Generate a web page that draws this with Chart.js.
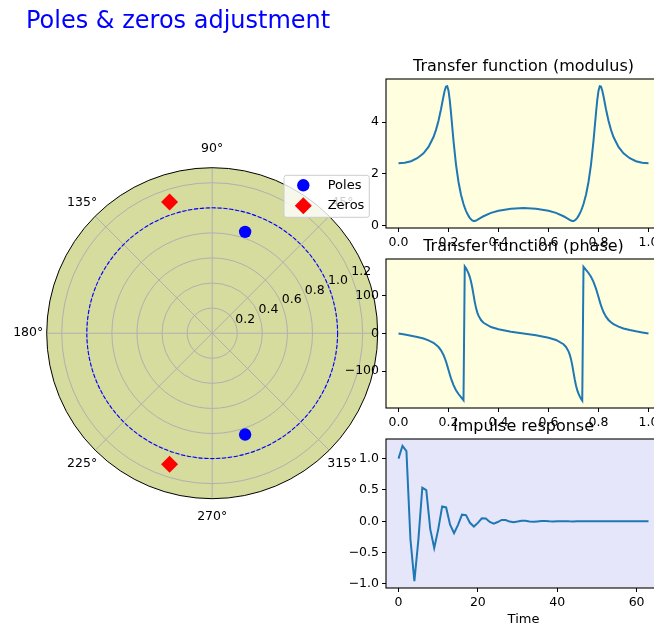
<!DOCTYPE html>
<html>
<head>
<meta charset="utf-8">
<script src="https://cdn.jsdelivr.net/npm/chart.js@4.4.1/dist/chart.umd.min.js"></script>
<style>
  html, body { margin:0; padding:0; background:#fff; width:654px; height:627px; overflow:hidden; position:relative; }
  canvas { position:absolute; }
</style>
</head>
<body>
<canvas id="polar" width="400" height="627" style="left:0px;top:0px;"></canvas>
<canvas id="modulus" width="320" height="210" style="left:346px;top:50px;"></canvas>
<canvas id="phase" width="320" height="210" style="left:346px;top:230px;"></canvas>
<canvas id="impulse" width="320" height="217" style="left:346px;top:410px;"></canvas>
<script>
// ---------------- data ----------------
const poleR = [0.85, 0.85];
const poleTheta = [72, -72];          // degrees
const zeroR = [1.1, 1.1];
const zeroTheta = [108, -108];        // degrees
const unitCircleR = 1.0;
const polarRMax = 1.32;
const polarRingTicks = [0.2, 0.4, 0.6, 0.8, 1.0, 1.2];
const polarAngleTicks = [0, 45, 90, 135, 180, 225, 270, 315];

const freq = [0, 0.025, 0.05, 0.075, 0.1, 0.12, 0.14, 0.15, 0.16, 0.17, 0.18, 0.185, 0.19, 0.195, 0.2, 0.205, 0.21, 0.22, 0.23, 0.24,
  0.25, 0.26, 0.265, 0.27, 0.275, 0.28, 0.285, 0.29, 0.295, 0.3, 0.305, 0.31, 0.315, 0.32, 0.33, 0.34, 0.37, 0.4, 0.45, 0.5,
  0.55, 0.6, 0.63, 0.66, 0.67, 0.68, 0.685, 0.69, 0.695, 0.7, 0.705, 0.71, 0.715, 0.72, 0.725, 0.73, 0.735, 0.74, 0.75, 0.76,
  0.77, 0.78, 0.79, 0.795, 0.8, 0.805, 0.81, 0.815, 0.82, 0.83, 0.84, 0.85, 0.86, 0.88, 0.9, 0.925, 0.95, 0.975, 1.0];
const modulus = [2.414, 2.433, 2.493, 2.606, 2.797, 3.042, 3.427, 3.703, 4.057, 4.502, 5.004, 5.229, 5.379, 5.391, 5.217, 4.855, 4.361, 3.278, 2.364, 1.688,
  1.198, 0.839, 0.697, 0.574, 0.468, 0.378, 0.303, 0.244, 0.203, 0.183, 0.184, 0.199, 0.224, 0.252, 0.310, 0.364, 0.494, 0.579, 0.657, 0.681,
  0.657, 0.579, 0.494, 0.364, 0.310, 0.252, 0.224, 0.199, 0.184, 0.183, 0.203, 0.244, 0.303, 0.378, 0.468, 0.574, 0.697, 0.839, 1.198, 1.688,
  2.364, 3.278, 4.361, 4.855, 5.217, 5.391, 5.379, 5.229, 5.004, 4.502, 4.057, 3.703, 3.427, 3.042, 2.797, 2.606, 2.493, 2.433, 2.414];
const phaseDeg = [0, -2.77, -5.74, -9.17, -13.5, -18.17, -24.91, -29.64, -35.94, -44.63, -57.03, -65.11, -74.59, -85.32, -96.83, -108.38, -119.24, -137.3, -150.62, -160.78,
  -169.32, -177.56, 178.0, 173.02, 167.2, 160.0, 150.7, 138.37, 122.26, 103.12, 84.06, 68.14, 56.14, 47.32, 35.74, 28.56, 17.19, 11.22, 4.88, 0,
  -4.88, -11.22, -17.19, -28.56, -35.74, -47.32, -56.14, -68.14, -84.06, -103.12, -122.26, -138.37, -150.7, -160.0, -167.2, -173.02, -178.0, 177.56, 169.32, 160.78,
  150.62, 137.3, 119.24, 108.38, 96.83, 85.32, 74.59, 65.11, 57.03, 44.63, 35.94, 29.64, 24.91, 18.17, 13.5, 9.17, 5.74, 2.77, 0];

const time = [0, 1, 2, 3, 4, 5, 6, 7, 8, 9, 10, 11, 12, 13, 14, 15, 16, 17, 18, 19, 20, 21, 22, 23, 24, 25, 26, 27, 28, 29, 30, 31,
  32, 33, 34, 35, 36, 37, 38, 39, 40, 41, 42, 43, 44, 45, 46, 47, 48, 49, 50, 51, 52, 53, 54, 55, 56, 57, 58, 59, 60, 61, 62, 63];
const impulse = [1.0, 1.205, 1.121, -0.282, -0.958, -0.3, 0.535, 0.497, -0.125, -0.425, -0.133, 0.237, 0.221, -0.056, -0.189, -0.059,
  0.105, 0.098, -0.025, -0.084, -0.026, 0.047, 0.044, -0.011, -0.037, -0.012, 0.021, 0.019, -0.005, -0.017, -0.005, 0.009,
  0.009, -0.002, -0.007, -0.002, 0.004, 0.004, -0.001, -0.003, -0.001, 0.002, 0.002, -0.001, -0.002, 0.0, 0.001, 0.001,
  0, 0, 0, 0, 0, 0, 0, 0, 0, 0, 0, 0, 0, 0, 0, 0];

const freqTicks = [0, 0.2, 0.4, 0.6, 0.8, 1.0];
const modulusTicks = [0, 2, 4];
const phaseTicks = [-100, 0, 100];
const timeTicks = [0, 20, 40, 60];
const impulseTicks = [-1.0, -0.5, 0.0, 0.5, 1.0];

// ---------------- setup ----------------
Chart.defaults.font.family = 'DejaVu Sans';
Chart.defaults.color = '#000';
const TICK_SIZE = 12.5;
const fmtNum = (v, d) => (v < 0 ? '\u2212' : '') + Math.abs(v).toFixed(d);
const deg = a => a * Math.PI / 180;
const toXY = (rs, ts) => rs.map((r, i) => ({ x: r * Math.cos(deg(ts[i])), y: r * Math.sin(deg(ts[i])) }));

// ---------------- polar chart ----------------
const polarPlugin = {
  id: 'polarGrid',
  beforeDatasetsDraw(chart) {
    const ctx = chart.ctx, sx = chart.scales.x, sy = chart.scales.y;
    const cx = sx.getPixelForValue(0), cy = sy.getPixelForValue(0);
    const rp = v => sx.getPixelForValue(v) - cx;
    const R = rp(polarRMax);
    ctx.save();
    ctx.beginPath(); ctx.arc(cx, cy, R, 0, Math.PI * 2); ctx.fillStyle = '#d5dc9e'; ctx.fill();
    ctx.strokeStyle = '#b0b0b0'; ctx.lineWidth = 1;
    for (const r of polarRingTicks) { ctx.beginPath(); ctx.arc(cx, cy, rp(r), 0, Math.PI * 2); ctx.stroke(); }
    for (const a of polarAngleTicks) {
      ctx.beginPath(); ctx.moveTo(cx, cy);
      ctx.lineTo(cx + R * Math.cos(deg(a)), cy - R * Math.sin(deg(a))); ctx.stroke();
    }
    ctx.setLineDash([4.1, 1.8]); ctx.strokeStyle = '#0000ff'; ctx.lineWidth = 1.1;
    ctx.beginPath(); ctx.arc(cx, cy, rp(unitCircleR), 0, Math.PI * 2); ctx.stroke();
    ctx.setLineDash([]);
    ctx.strokeStyle = '#000'; ctx.lineWidth = 1;
    ctx.beginPath(); ctx.arc(cx, cy, R, 0, Math.PI * 2); ctx.stroke();
    ctx.fillStyle = '#000'; ctx.font = TICK_SIZE + 'px "DejaVu Sans"';
    ctx.textAlign = 'center'; ctx.textBaseline = 'middle';
    const LR = R + 18.5;
    for (const a of polarAngleTicks) {
      ctx.fillText(a + '\u00b0', cx + LR * Math.cos(deg(a)), cy - LR * Math.sin(deg(a)));
    }
    ctx.textAlign = 'left'; ctx.textBaseline = 'alphabetic';
    const la = deg(22.5);
    for (const r of polarRingTicks) {
      ctx.fillText(r.toFixed(1), cx + rp(r) * Math.cos(la), cy - rp(r) * Math.sin(la) - 1);
    }
    ctx.restore();
  },
  afterDraw(chart) {
    const ctx = chart.ctx, ca = chart.chartArea;
    const w = 85.3, h = 42, rad = 2.5;
    const x0 = ca.right - 8.4 - w, y0 = ca.top + 7.6;
    ctx.save();
    ctx.beginPath();
    ctx.moveTo(x0 + rad, y0);
    ctx.arcTo(x0 + w, y0, x0 + w, y0 + h, rad);
    ctx.arcTo(x0 + w, y0 + h, x0, y0 + h, rad);
    ctx.arcTo(x0, y0 + h, x0, y0, rad);
    ctx.arcTo(x0, y0, x0 + w, y0, rad);
    ctx.closePath();
    ctx.fillStyle = 'rgba(255,255,255,0.8)'; ctx.fill();
    ctx.strokeStyle = '#cccccc'; ctx.lineWidth = 1; ctx.stroke();
    chart.data.datasets.forEach((ds, i) => {
      const mx = x0 + 19.3, my = y0 + 10 + i * 20.4, r = ds.pointRadius;
      ctx.fillStyle = ds.backgroundColor;
      ctx.beginPath();
      if (ds.pointStyle === 'circle') {
        ctx.arc(mx, my, r, 0, Math.PI * 2);
      } else {
        ctx.moveTo(mx - r, my); ctx.lineTo(mx, my - r); ctx.lineTo(mx + r, my); ctx.lineTo(mx, my + r); ctx.closePath();
      }
      ctx.fill();
      ctx.fillStyle = '#000'; ctx.font = '13px "DejaVu Sans"';
      ctx.textAlign = 'left'; ctx.textBaseline = 'middle';
      ctx.fillText(ds.label, x0 + 43.7, my);
    });
    ctx.restore();
  }
};

new Chart(document.getElementById('polar'), {
  type: 'scatter',
  data: { datasets: [
    { label: 'Poles', data: toXY(poleR, poleTheta), pointStyle: 'circle', pointRadius: 6.2, pointHoverRadius: 6.2,
      backgroundColor: '#0000ff', borderWidth: 0, pointBorderWidth: 0 },
    { label: 'Zeros', data: toXY(zeroR, zeroTheta), pointStyle: 'rectRot', pointRadius: 8.5, pointHoverRadius: 8.5,
      backgroundColor: '#ff0000', borderWidth: 0, pointBorderWidth: 0 }
  ]},
  options: {
    responsive: false, animation: false, events: [],
    layout: { padding: { left: 26, right: 22.3, top: 0, bottom: 128.3 } },
    plugins: {
      legend: { display: false }, tooltip: { enabled: false },
      title: { display: true, text: 'Poles & zeros adjustment', align: 'start', color: '#0000ff',
        font: { size: 24, weight: 'normal' }, padding: { top: 7.6, bottom: 131.3 } }
    },
    scales: {
      x: { type: 'linear', min: -polarRMax, max: polarRMax, bounds: 'data', display: false },
      y: { type: 'linear', min: -polarRMax, max: polarRMax, bounds: 'data', display: true,
        afterFit: s => { s.width = 20.7; },
        ticks: { display: false }, grid: { display: false }, border: { display: false } }
    }
  },
  plugins: [polarPlugin]
});

// ---------------- right-hand panels ----------------
const framePlugin = {
  id: 'frame',
  beforeDraw(chart, args, opts) {
    const ctx = chart.ctx, a = chart.chartArea;
    ctx.save(); ctx.fillStyle = opts.color;
    ctx.fillRect(a.left, a.top, a.right - a.left, a.bottom - a.top); ctx.restore();
  },
  afterDraw(chart) {
    const ctx = chart.ctx, a = chart.chartArea;
    ctx.save(); ctx.strokeStyle = '#000'; ctx.lineWidth = 1.1;
    ctx.strokeRect(a.left, a.top, a.right - a.left, a.bottom - a.top); ctx.restore();
  }
};

function axis(min, max, ticksArr, dec, fit, extra) {
  return Object.assign({
    type: 'linear', min, max, bounds: 'data',
    afterBuildTicks: s => { s.ticks = ticksArr.map(v => ({ value: v })); },
    afterFit: fit,
    ticks: { font: { size: TICK_SIZE }, color: '#000', padding: 3.5, maxRotation: 0, autoSkip: false,
      callback: v => fmtNum(v, dec) },
    grid: { display: true, drawOnChartArea: false, drawTicks: true, tickLength: 4, color: '#000', lineWidth: 1 },
    border: { display: false }
  }, extra || {});
}

function panel(id, titleText, xs, ys, xr, yr, xTicks, xDec, yTicks, yDec, bg, padTop, padBottom, xHeight, xTitle) {
  const xAxis = axis(xr[0], xr[1], xTicks, xDec, s => { s.height = xHeight; });
  if (xTitle) xAxis.title = { display: true, text: xTitle, font: { size: 13 }, color: '#000', padding: { top: 0, bottom: 0 } };
  const yAxis = axis(yr[0], yr[1], yTicks, yDec, s => { s.width = 40; });
  yAxis.ticks.padding = 3;
  return new Chart(document.getElementById(id), {
    type: 'scatter',
    data: { datasets: [{ data: xs.map((x, i) => ({ x, y: ys[i] })), showLine: true, borderColor: '#1f77b4',
      borderWidth: 2, pointRadius: 0, pointHoverRadius: 0, fill: false, tension: 0 }] },
    options: {
      responsive: false, animation: false, events: [],
      layout: { padding: { left: 0, right: 5, top: padTop, bottom: padBottom } },
      plugins: {
        legend: { display: false }, tooltip: { enabled: false },
        title: { display: true, text: titleText, fullSize: false, color: '#000', font: { size: 16, weight: 'normal' },
          padding: { top: 0, bottom: 2.4 } },
        frame: { color: bg }
      },
      scales: { x: xAxis, y: yAxis }
    },
    plugins: [framePlugin]
  });
}

panel('modulus', 'Transfer function (modulus)', freq, modulus, [-0.05, 1.05], [-0.09, 5.67],
  freqTicks, 1, modulusTicks, 0, '#ffffe0', 7.4, 10, 22);
panel('phase', 'Transfer function (phase)', freq, phaseDeg, [-0.05, 1.05], [-198, 198],
  freqTicks, 1, phaseTicks, 0, '#ffffe0', 7.4, 10, 22);
panel('impulse', 'Impulse response', time, impulse, [-3.15, 66.15], [-1.066, 1.314],
  timeTicks, 0, impulseTicks, 1, '#e6e6fa', 7.4, 0, 39, 'Time');
</script>
</body>
</html>
